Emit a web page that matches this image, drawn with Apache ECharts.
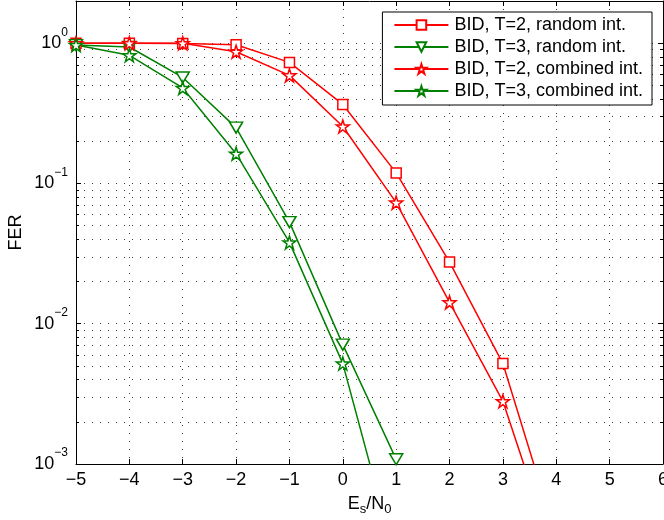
<!DOCTYPE html>
<html><head><meta charset="utf-8">
<script src="https://cdn.jsdelivr.net/npm/echarts@6/dist/echarts.min.js"></script>
<style>html,body{margin:0;padding:0;background:#fff}#c{width:664px;height:520px}</style>
</head><body><div id="c"></div>
<script>
const xValues = [-5, -4, -3, -2, -1, 0, 1, 2, 3, 4];
const t2Random = [1.0, 1.0, 0.995, 0.975, 0.73, 0.366, 0.119, 0.0275, 0.0052, 0.0003];
const t3Random = [0.97, 0.94, 0.57, 0.25, 0.053, 0.0071, 0.00108];
const t2Combined = [1.0, 1.0, 1.0, 0.87, 0.59, 0.255, 0.073, 0.0142, 0.0028, 0.0002];
const t3Combined = [0.97, 0.82, 0.48, 0.163, 0.038, 0.0052, 0.0002];
const seriesNames = ['BID, T=2, random int.', 'BID, T=3, random int.', 'BID, T=2, combined int.', 'BID, T=3, combined int.'];

const RED = '#ff0000', GREEN = '#008000';
const STAR = 'path://M50 0L61.23 34.55L97.55 34.55L68.17 55.9L79.39 90.45L50 69.1L20.61 90.45L31.83 55.9L2.45 34.55L38.77 34.55Z';
const FONT = 'Liberation Sans, Arial, Helvetica, sans-serif';
const FS = 18;

function pairs(ys) { return ys.map((y, i) => [xValues[i], y]); }
function minusSign(s) { return String(s).replace('-', '\u2212'); }

function mk(name, data, color, symbol, size, rotate) {
  return {
    name: name, type: 'line', data: pairs(data),
    symbol: symbol, symbolSize: size, symbolRotate: rotate || 0,
    showAllSymbol: true, clip: true,
    lineStyle: { color: color, width: 1.5 },
    itemStyle: { color: '#ffffff', borderColor: color, borderWidth: 1.5 },
    emphasis: { disabled: true }, animation: false, z: 3
  };
}

const tickStyle = { show: true, inside: true, length: 5, lineStyle: { color: '#000', width: 1 } };
const dotted = { color: '#000', width: 1, type: [1, 7], opacity: 0.75 };

const chart = echarts.init(document.getElementById('c'), null, { renderer: 'canvas' });
chart.setOption({
  backgroundColor: '#fff',
  animation: false,
  grid: { left: 76, right: 1, top: 1, bottom: 56, containLabel: false, outerBoundsMode: 'none' },
  legend: {
    orient: 'vertical', right: 12, top: 12,
    backgroundColor: '#fff', borderColor: '#000', borderWidth: 1,
    padding: [4, 9, 5, 11], itemGap: 4, itemWidth: 54, itemHeight: 12,
    textStyle: { fontFamily: FONT, fontSize: FS, color: '#000', padding: [0, 0, 0, 1] },
    data: seriesNames
  },
  xAxis: [{
    type: 'value', min: -5, max: 6, interval: 1, position: 'bottom',
    axisLine: { show: true, onZero: false, lineStyle: { color: '#000', width: 1 } },
    axisTick: tickStyle,
    axisLabel: { fontFamily: FONT, fontSize: FS, color: '#000', margin: 7, formatter: v => minusSign(v) },
    splitLine: { show: true, lineStyle: dotted },
    name: 'E{sub|s}/N{sub|0}', nameLocation: 'middle', nameGap: 28, nameMoveOverlap: false,
    nameTextStyle: { fontFamily: FONT, fontSize: FS, color: '#000',
      rich: { sub: { fontFamily: FONT, fontSize: 13, color: '#000', verticalAlign: 'bottom', padding: [11, 0, 0, 0] } } }
  }, {
    type: 'value', min: -5, max: 6, interval: 1, position: 'top',
    axisLine: { show: true, onZero: false, lineStyle: { color: '#000', width: 1 } },
    axisTick: tickStyle, axisLabel: { show: false }, splitLine: { show: false }
  }],
  yAxis: [{
    type: 'log', logBase: 10, min: 0.001, max: 2, position: 'left',
    axisLine: { show: true, onZero: false, lineStyle: { color: '#000', width: 1 } },
    axisTick: tickStyle,
    minorTick: { show: true, splitNumber: 9, length: 3, lineStyle: { color: '#000', width: 1 } },
    minorSplitLine: { show: true, lineStyle: dotted },
    splitLine: { show: true, lineStyle: dotted },
    axisLabel: {
      fontFamily: FONT, fontSize: FS, color: '#000', margin: 8,
      formatter: function (v) {
        const e = Math.log10(v);
        if (Math.abs(e - Math.round(e)) > 1e-6) return '';
        return '{b|10}{s|' + minusSign(Math.round(e)) + '}';
      },
      rich: {
        b: { fontFamily: FONT, fontSize: FS, color: '#000', lineHeight: 18, padding: [8, 0, 0, 0], verticalAlign: 'bottom' },
        s: { fontFamily: FONT, fontSize: 12, color: '#000', lineHeight: 12, padding: [0, 0, 14, 0], verticalAlign: 'bottom' }
      }
    },
    name: 'FER', nameLocation: 'middle', nameGap: 51, nameRotate: 90, nameMoveOverlap: false,
    nameTextStyle: { fontFamily: FONT, fontSize: FS, color: '#000' }
  }, {
    type: 'log', logBase: 10, min: 0.001, max: 2, position: 'right',
    axisLine: { show: true, onZero: false, lineStyle: { color: '#000', width: 1 } },
    axisTick: tickStyle,
    minorTick: { show: true, splitNumber: 9, length: 3, lineStyle: { color: '#000', width: 1 } },
    axisLabel: { show: false }, splitLine: { show: false }
  }],
  series: [
    mk(seriesNames[0], t2Random, RED, 'rect', 10),
    mk(seriesNames[1], t3Random, GREEN, 'triangle', [13, 11], 180),
    mk(seriesNames[2], t2Combined, RED, STAR, 13),
    mk(seriesNames[3], t3Combined, GREEN, STAR, 13)
  ]
});
</script></body></html>
